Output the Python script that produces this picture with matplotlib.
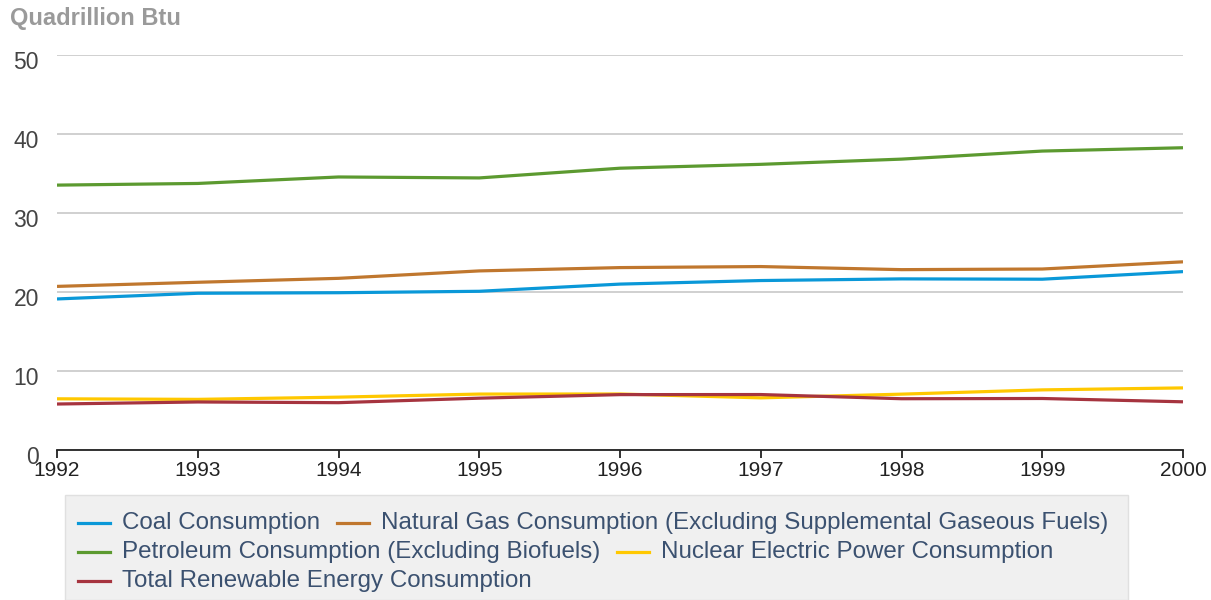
import matplotlib
matplotlib.use("Agg")
import matplotlib.pyplot as plt
import matplotlib.transforms as mtransforms
from matplotlib.lines import Line2D
from matplotlib.patches import Rectangle

plt.rcParams['font.family'] = ['Liberation Sans', 'DejaVu Sans']

# US primary energy consumption by source, quadrillion Btu
years = [1992, 1993, 1994, 1995, 1996, 1997, 1998, 1999, 2000]
coal = [19.12, 19.84, 19.91, 20.09, 21.00, 21.45, 21.66, 21.62, 22.58]
natural_gas = [20.71, 21.23, 21.73, 22.67, 23.09, 23.22, 22.83, 22.91, 23.82]
petroleum = [33.53, 33.74, 34.56, 34.44, 35.67, 36.16, 36.82, 37.84, 38.26]
nuclear = [6.48, 6.41, 6.69, 7.08, 7.09, 6.60, 7.07, 7.61, 7.86]
renewable = [5.82, 6.08, 5.99, 6.56, 7.01, 7.02, 6.49, 6.52, 6.10]

series_names = [
    "Coal Consumption",
    "Natural Gas Consumption (Excluding Supplemental Gaseous Fuels)",
    "Petroleum Consumption (Excluding Biofuels)",
    "Nuclear Electric Power Consumption",
    "Total Renewable Energy Consumption",
]
series_values = [coal, natural_gas, petroleum, nuclear, renewable]
series_colors = ["#0a98d8", "#c0772e", "#5c9a30", "#ffc800", "#a6343f"]

W, H = 1211, 600
fig = plt.figure(figsize=(W / 100, H / 100), dpi=100)
ax = fig.add_axes([57 / W, 150 / H, (1183 - 57) / W, (450 - 55) / H])

for name, vals, col in zip(series_names, series_values, series_colors):
    ax.plot(years, vals, color=col, lw=2.3, solid_joinstyle='round',
            solid_capstyle='butt', zorder=3)

ax.set_xlim(1992, 2000)
ax.set_ylim(0, 50)
ax.set_yticks([0, 10, 20, 30, 40, 50])
ax.set_xticks(years)
ax.grid(axis='y', color='#c8c8c8', lw=1.2)
ax.set_axisbelow(True)
for side in ['top', 'right', 'left']:
    ax.spines[side].set_visible(False)
ax.spines['bottom'].set_color('#222222')
ax.spines['bottom'].set_linewidth(1.3)
ax.tick_params(axis='y', length=0, pad=13, labelsize=16.5, labelcolor='#444444')
ax.tick_params(axis='x', length=6, width=1.3, color='#222222', pad=2,
               labelsize=15, labelcolor='#222222', direction='out')

# y labels sit a little below their gridlines
shift = mtransforms.ScaledTranslation(0, -5 / 100, fig.dpi_scale_trans)
for lbl in ax.get_yticklabels():
    lbl.set_transform(lbl.get_transform() + shift)

fig.text(10 / W, 1 - 18 / H, "Quadrillion Btu", fontsize=17, fontweight='bold',
         color='#9a9a9a', ha='left', va='center')

# legend box with items flowing left to right, wrapping at the box edge
box_l, box_r, box_t = 65, 1128, 495
fig.patches.append(Rectangle((box_l / W, 0), (box_r - box_l) / W, 1 - box_t / H,
                             transform=fig.transFigure, facecolor='#f0f0f0',
                             edgecolor='#e0e0e0', lw=1, zorder=0))

renderer = fig.canvas.get_renderer()
x, row_y = 78, 523
for name, col in zip(series_names, series_colors):
    t = fig.text(0, 0, name, fontsize=17.4, color='#3b5170', ha='left', va='center')
    tw = t.get_window_extent(renderer).width
    if x + 44 + tw > box_r - 3:
        x = 78
        row_y += 29
    fig.lines.append(Line2D([x / W, (x + 32) / W], [1 - row_y / H, 1 - row_y / H],
                            transform=fig.transFigure, color=col, lw=2.3))
    t.set_position(((x + 44) / W, 1 - row_y / H))
    x += 44 + tw + 17

fig.savefig("out.png", dpi=100)
